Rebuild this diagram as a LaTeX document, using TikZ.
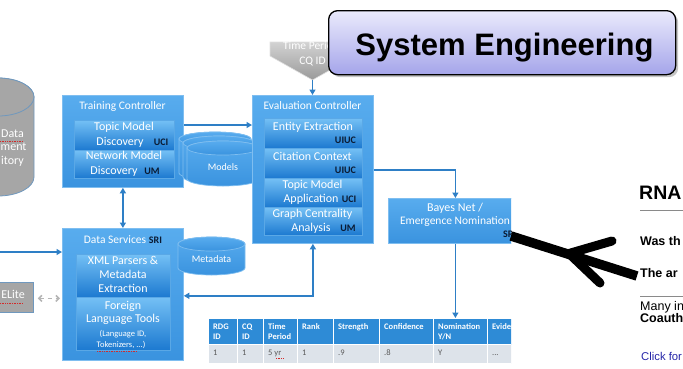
\documentclass[tikz,border=0pt]{standalone}
\usepackage{fontspec}
\setmainfont{Carlito}
\newfontfamily\arialf{Liberation Sans}
\usetikzlibrary{arrows.meta,shadows}
\definecolor{outtop}{HTML}{58ACEE}
\definecolor{outbot}{HTML}{3A93DF}
\definecolor{boxline}{HTML}{7FBEF0}
\definecolor{intop}{HTML}{74C0F5}
\definecolor{inbot}{HTML}{1C79D0}
\definecolor{inline}{HTML}{5AA8E6}
\definecolor{conncol}{HTML}{2E7FC6}
\definecolor{labcol}{HTML}{0B1B33}
\definecolor{tabhead}{HTML}{2E8BD6}
\definecolor{tabrow}{HTML}{DDE3EA}
\definecolor{tabtext}{HTML}{5A5A5A}
\definecolor{graybody}{HTML}{A6A6A6}
\definecolor{grayline}{HTML}{6F98BE}
\definecolor{funtop}{HTML}{D2D2D2}
\definecolor{funbot}{HTML}{9A9A9A}
\definecolor{setop}{HTML}{EAEAFC}
\definecolor{sebot}{HTML}{A5A5EA}
\definecolor{squig}{HTML}{D42A2A}
\definecolor{linkblue}{HTML}{2525A8}
\definecolor{rulegray}{HTML}{8A8A8A}
\definecolor{dashgray}{HTML}{B5B5B5}
\newcommand{\tdots}{...}
\newcommand{\drawcyl}[6]{%
  \path[#6] (#1-#4,#2) -- (#1-#4,#3) arc[start angle=180,end angle=360,x radius=#4pt,y radius=#5pt] -- (#1+#4,#2) arc[start angle=0,end angle=180,x radius=#4pt,y radius=#5pt] -- cycle;
  \path[#6] (#1,#2) ellipse[x radius=#4pt,y radius=#5pt];}
\begin{document}
\begin{tikzpicture}[x=1pt,y=-1pt,
  obox/.style={draw=boxline,line width=0.8pt,top color=outtop,bottom color=outbot,anchor=north west,inner sep=0pt},
  ibox/.style={draw=inline,line width=0.6pt,top color=intop,bottom color=inbot,anchor=north west,inner sep=0pt},
  wt/.style={text=white,inner sep=0pt,anchor=mid,font=\fontsize{12}{14}\selectfont},
  ttl/.style={wt,font=\fontsize{11.5}{13}\selectfont},
  sm/.style={wt,font=\fontsize{8.5}{10}\selectfont},
  lab/.style={text=labcol,inner sep=0pt,anchor=mid,font=\bfseries\fontsize{10}{12}\selectfont},
  conn/.style={draw=conncol,line width=1.6pt,-{Triangle[length=5.5pt,width=6pt]}},
  dconn/.style={draw=conncol,line width=1.6pt,{Triangle[length=5.5pt,width=6pt]}-{Triangle[length=5.5pt,width=6pt]}},
  modcyl/.style={draw=boxline,line width=0.7pt,top color=outtop,bottom color=outbot},
  graycyl/.style={draw=grayline,line width=0.8pt,fill=graybody},
  hcell/.style={draw=white,line width=1.2pt,fill=tabhead,minimum height=26pt,anchor=north west,inner sep=0pt},
  dcell/.style={draw=white,line width=1.2pt,fill=tabrow,minimum height=19pt,anchor=north west,inner sep=0pt},
  htxt/.style={text=white,inner sep=0pt,anchor=mid west,font=\bfseries\fontsize{8.5}{10}\selectfont},
  dtxt/.style={text=tabtext,inner sep=0pt,anchor=mid west,font=\fontsize{8.5}{10}\selectfont},
  rtxt/.style={inner sep=0pt,anchor=base west,font=\arialf\fontsize{12.5}{15}\selectfont},
  rbtxt/.style={rtxt,font=\arialf\bfseries\fontsize{12.5}{15}\selectfont},
  sq/.style={draw=squig,line width=0.7pt,densely dotted}]
\useasboundingbox (0,0) rectangle (683,368);
\clip (0,0) rectangle (683,368);

% data repository (gray cylinder, cut at left)
\drawcyl{-2}{97}{177}{36}{19}{graycyl}
\node[wt,anchor=mid east] (rep1) at (24,135) {Data};
\node[wt,anchor=mid west] (rep2) at (0.5,148.5) {ment};
\node[wt,anchor=mid west] (rep3) at (1,162) {itory};
\draw[sq] (0,141.5) -- (23,141.5);

% ELite box
\node[draw=grayline,line width=0.8pt,fill=graybody,minimum width=34pt,minimum height=30pt,anchor=north west,inner sep=0pt] (elite) at (-1,282) {};
\node[wt,anchor=mid east] (elitet) at (25,296) {ELite};
\draw[sq] (0,303.5) -- (23,303.5);

% Training controller
\node[obox,minimum width=121pt,minimum height=92pt] (tc) at (62,95) {};
\node[ttl] (tct) at (122.5,107) {Training Controller};
\node[ibox,minimum width=100pt,minimum height=30pt] (tmd) at (74,120) {};
\node[wt] (tmd1) at (124,128) {Topic Model};
\node[wt] (tmd2) at (120,143) {Discovery};
\node[lab] (tmdl) at (161,143) {UCI};
\node[ibox,minimum width=100pt,minimum height=28pt] (nmd) at (74,150) {};
\node[wt] (nmd1) at (124,157) {Network Model};
\node[wt] (nmd2) at (114,172) {Discovery};
\node[lab] (nmdl) at (152,172) {UM};

% Models cylinders
\drawcyl{215}{139}{173}{36}{7}{modcyl}
\drawcyl{219}{143}{177}{36}{7}{modcyl}
\drawcyl{223}{148}{179}{36}{7}{modcyl}
\node[wt,font=\fontsize{10}{12}\selectfont] (models) at (223,168) {Models};

% Time period funnel
\path[draw=white!75!gray,line width=0.6pt,top color=funtop,bottom color=funbot] (270,42) -- (270,56) -- (312.5,80) -- (355,56) -- (355,42) -- cycle;
\coordinate (ftip) at (312.5,80);
\node[wt,font=\fontsize{11.5}{13}\selectfont] (tp) at (311,47.5) {Time Period};
\node[wt,font=\fontsize{11.5}{13}\selectfont] (cq) at (312.5,62) {CQ ID};

% Evaluation controller
\node[obox,minimum width=121pt,minimum height=148pt] (ec) at (252,95) {};
\node[ttl] (ect) at (312.5,107) {Evaluation Controller};
\node[ibox,minimum width=98pt,minimum height=30pt] (ee) at (264,118) {};
\node[wt] (ee1) at (313,128) {Entity Extraction};
\node[lab] (eel) at (345.5,141) {UIUC};
\node[ibox,minimum width=98pt,minimum height=30pt] (cc) at (264,148) {};
\node[wt] (cc1) at (312.5,158) {Citation Context};
\node[lab] (ccl) at (345.5,171) {UIUC};
\node[ibox,minimum width=98pt,minimum height=29pt] (tma) at (264,178) {};
\node[wt] (tma1) at (312.5,186.5) {Topic Model};
\node[wt] (tma2) at (311,200) {Application};
\node[lab] (tmal) at (349,200) {UCI};
\node[ibox,minimum width=98pt,minimum height=28pt] (gca) at (264,207) {};
\node[wt] (gca1) at (312.5,215) {Graph Centrality};
\node[wt] (gca2) at (311,229) {Analysis};
\node[lab] (gcal) at (348,229) {UM};

% Data services
\node[obox,minimum width=121pt,minimum height=132pt] (ds) at (62,228) {};
\node[ttl] (dst) at (115,241) {Data Services};
\node[lab] (dsl) at (155.5,241) {SRI};
\node[ibox,minimum width=94pt,minimum height=43pt] (xml) at (76,254) {};
\node[wt] (xml1) at (123,262) {XML Parsers \&};
\node[wt] (xml2) at (123,276) {Metadata};
\node[wt] (xml3) at (123,290) {Extraction};
\node[ibox,minimum width=94pt,minimum height=53pt] (flt) at (76,297) {};
\node[wt] (flt1) at (123,307) {Foreign};
\node[wt] (flt2) at (123,320.5) {Language Tools};
\node[sm] (flt3) at (123,334) {(Language ID,};
\node[sm] (flt4) at (121,345) {Tokenizers, \tdots)};
\draw[sq] (97,351.5) -- (137,351.5);

% Metadata cylinder
\drawcyl{211.5}{244}{268}{33.5}{7}{modcyl}
\node[wt,font=\fontsize{10}{12}\selectfont] (meta) at (211.5,260.5) {Metadata};

% System engineering title
\node[draw=black,line width=1.3pt,rounded corners=9pt,top color=setop,bottom color=sebot,drop shadow={shadow xshift=2.5pt,shadow yshift=-2.5pt,opacity=0.45},minimum width=347pt,minimum height=64pt,anchor=north west,inner sep=0pt] (se) at (328,10) {};
\node[font=\arialf\bfseries\fontsize{31}{36}\selectfont,anchor=base,inner sep=0pt] (setext) at (504.5,55) {System Engineering};

% connectors (left part)
\draw[conn] (ftip) -- (ftip |- ec.north);
\draw[conn] ([yshift=-30pt]tc.north east) -- ([yshift=-30pt]ec.north west);
\draw[dconn] (tc.south) -- (ds.north);
\coordinate (inl) at (0,252);
\draw[conn] (inl) -- (inl -| ds.west);
\draw[draw=dashgray,line width=1.6pt,dash pattern=on 4pt off 4pt,{Straight Barb[length=3pt,width=6pt]}-{Straight Barb[length=3pt,width=6pt]}] ([xshift=4pt,yshift=-1pt]elite.east) -- ([xshift=-2pt,yshift=-1pt]elite.east -| ds.west);
\draw[dconn] (ec.south) -- ++(0,52) coordinate (ecb) -- (ecb -| ds.east);

% right part clipped at slide edge
\begin{scope}
\clip (0,0) rectangle (511,368);
\node[obox,minimum width=134pt,minimum height=45pt] (bn) at (388,198) {};
\node[wt] (bn1) at (455,209) {Bayes Net /};
\node[wt,font=\fontsize{11.5}{13}\selectfont] (bn2) at (455,222.5) {Emergence Nomination};
\node[lab,anchor=mid west] (bnl) at (503,235) {SRI};
\foreach \xa/\xb/\ta/\tb/\dv [count=\i] in {208/237/RDG/ID/1, 237/263/CQ/ID/1, 263/297/Time/Period/5 yr, 297/333/Rank//1, 333/379/Strength//.9, 379/433/Confidence//.8, 433/487/Nomination/{Y/N}/Y, 487/545/Evidence//\tdots}{
  \node[hcell,minimum width={(\xb-\xa)*1pt}] (h\i) at (\xa,318) {};
  \node[dcell,minimum width={(\xb-\xa)*1pt}] (d\i) at (\xa,344) {};
  \node[htxt] (ht\i) at (\xa+5,327) {\ta};
  \node[htxt] (hb\i) at (\xa+5,337) {\tb};
  \node[dtxt] (dt\i) at (\xa+5,353.5) {\dv};
}
\draw[sq] (276,358.5) -- (283,358.5);
\end{scope}
\draw[conn] ([yshift=-75pt]ec.north east) -| (bn.north);
\draw[conn] (bn.south) -- (bn.south |- h1.north);

% hand drawn black arrow
\coordinate (hs) at (511,236);
\coordinate (he) at (637,276);
\coordinate (hv) at (569,253.5);
\coordinate (hu) at (612,241);
\coordinate (hl) at (600,283);
\draw[black,line width=9.5pt] (hs) -- (he);
\draw[black,line width=9pt,line cap=round,line join=round] (hu) -- (hv) -- (hl);

% web page text at right
\node[rtxt,font=\arialf\bfseries\fontsize{19.5}{24}\selectfont] (rna) at (639,199.5) {RNA};
\draw[rulegray,line width=1pt] (640,210) -- (683,210);
\node[rbtxt] (was) at (640,245.5) {Was th};
\node[rbtxt] (thea) at (640,277) {The ar};
\draw[rulegray,line width=1pt] (640,296) -- (683,296);
\node[rtxt] (many) at (640,310.5) {Many in};
\node[rbtxt] (coau) at (640,322) {Coauth};
\node[rtxt,text=linkblue,font=\arialf\fontsize{11.3}{14}\selectfont] (click) at (641,360) {Click for};
\end{tikzpicture}
\end{document}
